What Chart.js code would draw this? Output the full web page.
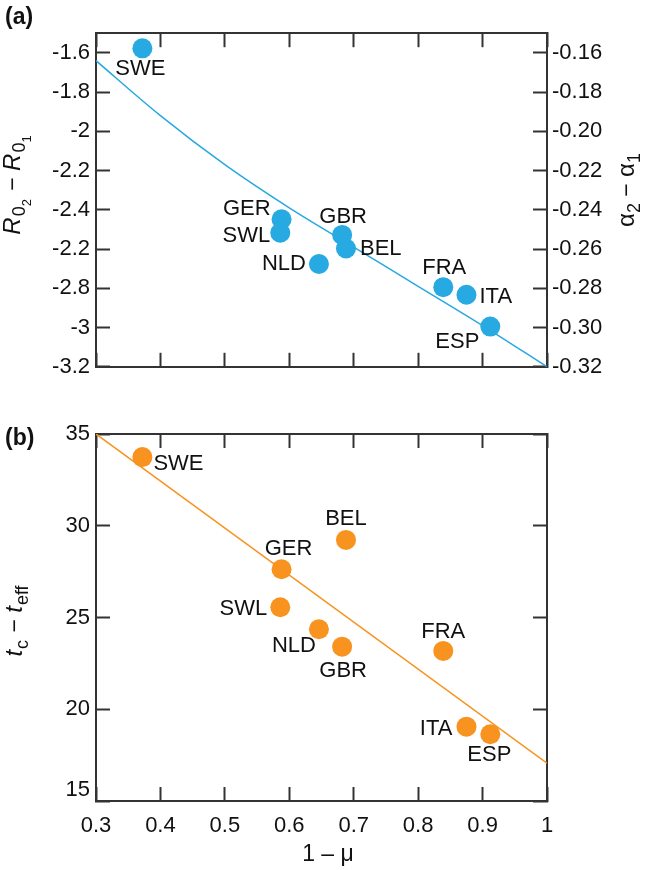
<!DOCTYPE html>
<html lang="en">
<head>
<meta charset="UTF-8">
<title>R0 and tc vs 1 - mu</title>
<script src="https://cdn.jsdelivr.net/npm/chart.js"></script>
<style>
  html, body { margin: 0; padding: 0; background: #fff; }
  #wrap { position: relative; width: 645px; height: 870px; }
  canvas { position: absolute; left: 0; }
  #chartA { top: 0; }
  #chartB { top: 400px; }
</style>
</head>
<body>
<div id="wrap">
  <canvas id="chartA" width="645" height="400"></canvas>
  <canvas id="chartB" width="645" height="470"></canvas>
</div>
<script>
// data
const countries = ['SWE', 'GER', 'SWL', 'GBR', 'BEL', 'NLD', 'FRA', 'ITA', 'ESP'];
const oneMinusMu = [0.372, 0.588, 0.586, 0.682, 0.688, 0.646, 0.839, 0.875, 0.912];
const deltaR0 = [-1.577, -2.448, -2.517, -2.528, -2.597, -2.676, -2.794, -2.833, -2.995];
const deltaT = [33.74, 27.63, 25.56, 23.41, 29.23, 24.36, 23.18, 19.05, 18.64];

const fitAx = [0.3, 0.4, 0.5, 0.6, 0.7, 0.8, 0.9, 1.0];
const fitAy = [-1.64, -1.92, -2.17, -2.39, -2.59, -2.79, -2.99, -3.2];
const fitBx = [0.3, 1.0];
const fitBy = [35, 17.06];

const xTicks = [0.3, 0.4, 0.5, 0.6, 0.7, 0.8, 0.9, 1.0];
const xTickLabels = ['0.3', '0.4', '0.5', '0.6', '0.7', '0.8', '0.9', '1'];
const yTicksA = [-3.2, -3.0, -2.8, -2.6, -2.4, -2.2, -2.0, -1.8, -1.6];
const yTickLabelsA = ['-3.2', '-3', '-2.8', '-2.2', '-2.4', '-2.2', '-2', '-1.8', '-1.6'];
const y2TicksA = [-0.32, -0.30, -0.28, -0.26, -0.24, -0.22, -0.20, -0.18, -0.16];
const y2TickLabelsA = ['-0.32', '-0.30', '-0.28', '-0.26', '-0.24', '-0.22', '-0.20', '-0.18', '-0.16'];
const yTicksB = [15, 20, 25, 30, 35];
const yTickLabelsB = ['15', '20', '25', '30', '35'];

const BLUE = '#27a9e1';
const ORANGE = '#f7931e';
const AXIS = '#333333';
const TEXT = '#111111';
const FONT = '"Liberation Sans", Arial, sans-serif';

// label placement next to each point: [dx, dy, align]
const placeA = [[-2, 21, 'center'], [-11, -10, 'right'], [-10, 3, 'right'], [1, -18, 'center'],
  [14, 0, 'left'], [-13, 0, 'right'], [1, -19, 'center'], [13, 2, 'left'], [-33, 15, 'center']];
const placeB = [[11, 7, 'left'], [7, -20, 'center'], [-13, 2, 'right'], [1, 24, 'center'],
  [0, -21, 'center'], [-3, 17, 'right'], [0, -19, 'center'], [-14, 2, 'right'], [-1, 21, 'center']];

function pts(xs, ys) {
  return xs.map((x, i) => ({ x: x, y: ys[i] }));
}

function fixedTicks(values) {
  return scale => { scale.ticks = values.map(v => ({ value: v })); };
}

function axisCommon(extra) {
  return Object.assign({
    type: 'linear',
    grid: { drawOnChartArea: false, drawTicks: true, tickLength: -14, tickWidth: 2, tickColor: AXIS },
    border: { display: true, color: AXIS, width: 2 },
  }, extra);
}

// draws text made of pieces with different fonts / baseline shifts
function drawRich(ctx, parts, x, y, rotate) {
  ctx.save();
  ctx.translate(x, y);
  if (rotate) ctx.rotate(-Math.PI / 2);
  ctx.textBaseline = 'alphabetic';
  ctx.textAlign = 'left';
  ctx.fillStyle = TEXT;
  let total = 0;
  parts.forEach(p => { ctx.font = p.font; total += ctx.measureText(p.t).width + (p.gap || 0); });
  let cx = -total / 2;
  parts.forEach(p => {
    ctx.font = p.font;
    ctx.fillText(p.t, cx, p.dy || 0);
    cx += ctx.measureText(p.t).width + (p.gap || 0);
  });
  ctx.restore();
}

const pointLabels = {
  id: 'pointLabels',
  afterDatasetsDraw(chart, args, opts) {
    const ctx = chart.ctx;
    const meta = chart.getDatasetMeta(0);
    ctx.save();
    ctx.font = '22px ' + FONT;
    ctx.fillStyle = TEXT;
    ctx.textBaseline = 'middle';
    meta.data.forEach((el, i) => {
      const p = opts.place[i];
      ctx.textAlign = p[2];
      ctx.fillText(countries[i], el.x + p[0], el.y + p[1]);
    });
    ctx.restore();
  }
};

const extras = {
  id: 'extras',
  afterDraw(chart, args, opts) {
    const ctx = chart.ctx;
    ctx.save();
    ctx.font = 'bold 23px ' + FONT;
    ctx.fillStyle = TEXT;
    ctx.textAlign = 'left';
    ctx.textBaseline = 'alphabetic';
    ctx.fillText(opts.panel, 5, opts.panelY);
    ctx.restore();
    opts.titles.forEach(t => drawRich(ctx, t.parts, t.x, t.y, t.rotate));
  }
};

const main = '23px ' + FONT;
const ital = 'italic 24px ' + FONT;
const sub = '18px ' + FONT;
const sub2 = '13px ' + FONT;
const TICKFONT = { family: FONT, size: 22 };

new Chart(document.getElementById('chartA'), {
  type: 'scatter',
  data: {
    datasets: [
      { data: pts(oneMinusMu, deltaR0), backgroundColor: BLUE, borderWidth: 0, pointRadius: 10, pointHoverRadius: 10 },
      { type: 'line', data: pts(fitAx, fitAy), borderColor: BLUE, borderWidth: 1.5, pointRadius: 0,
        fill: false, cubicInterpolationMode: 'monotone' }
    ]
  },
  options: {
    responsive: false,
    animation: false,
    devicePixelRatio: 1,
    layout: { padding: 0 },
    plugins: {
      legend: { display: false },
      tooltip: { enabled: false },
      pointLabels: { place: placeA },
      extras: {
        panel: '(a)', panelY: 24,
        titles: [
          { rotate: true, x: 20, y: 185, parts: [
            { t: 'R', font: ital, gap: 1 }, { t: '0', font: sub, dy: 5 }, { t: '2', font: sub2, dy: 11, gap: 2 },
            { t: ' \u2212 ', font: main }, { t: 'R', font: ital, gap: 1 }, { t: '0', font: sub, dy: 5 }, { t: '1', font: sub2, dy: 11 }] },
          { rotate: true, x: 634, y: 190, parts: [
            { t: '\u03b1', font: '24px ' + FONT }, { t: '2', font: sub, dy: 6 }, { t: ' \u2212 ', font: main },
            { t: '\u03b1', font: '24px ' + FONT }, { t: '1', font: sub, dy: 6 }] }
        ]
      }
    },
    scales: {
      x: axisCommon({ position: 'bottom', min: 0.3, max: 1, afterBuildTicks: fixedTicks(xTicks),
        ticks: { display: false }, afterFit: s => { s.height = 24; } }),
      x2: axisCommon({ position: 'top', min: 0.3, max: 1, afterBuildTicks: fixedTicks(xTicks),
        ticks: { display: false }, afterFit: s => { s.height = 8; } }),
      y: axisCommon({ position: 'left', min: -3.2, max: -1.5, afterBuildTicks: fixedTicks(yTicksA),
        ticks: { padding: 20, color: TEXT, font: TICKFONT, callback: (v, i) => yTickLabelsA[i] },
        afterFit: s => { s.width = 96; } }),
      y2: axisCommon({ position: 'right', min: -0.32, max: -0.15, afterBuildTicks: fixedTicks(y2TicksA),
        ticks: { padding: 19, color: TEXT, font: TICKFONT, callback: (v, i) => y2TickLabelsA[i] },
        afterFit: s => { s.width = 98; } })
    }
  },
  plugins: [pointLabels, extras]
});

new Chart(document.getElementById('chartB'), {
  type: 'scatter',
  data: {
    datasets: [
      { data: pts(oneMinusMu, deltaT), backgroundColor: ORANGE, borderWidth: 0, pointRadius: 10, pointHoverRadius: 10 },
      { type: 'line', data: pts(fitBx, fitBy), borderColor: ORANGE, borderWidth: 1.5, pointRadius: 0, fill: false }
    ]
  },
  options: {
    responsive: false,
    animation: false,
    devicePixelRatio: 1,
    layout: { padding: 0 },
    plugins: {
      legend: { display: false },
      tooltip: { enabled: false },
      pointLabels: { place: placeB },
      extras: {
        panel: '(b)', panelY: 45,
        titles: [
          { rotate: true, x: 22, y: 221, parts: [
            { t: 't', font: ital, gap: 1 }, { t: 'c', font: sub, dy: 6, gap: 1 }, { t: ' \u2212 ', font: main },
            { t: 't', font: ital, gap: 1 }, { t: 'eff', font: sub, dy: 6 }] },
          { rotate: false, x: 328, y: 461, parts: [{ t: '1 \u2013 \u03bc', font: main }] }
        ]
      }
    },
    scales: {
      x: axisCommon({ position: 'bottom', min: 0.3, max: 1, afterBuildTicks: fixedTicks(xTicks),
        ticks: { padding: 26, color: TEXT, font: TICKFONT, callback: (v, i) => xTickLabels[i] },
        afterFit: s => { s.height = 69; } }),
      x2: axisCommon({ position: 'top', min: 0.3, max: 1, afterBuildTicks: fixedTicks(xTicks),
        ticks: { display: false }, afterFit: s => { s.height = 34; } }),
      y: axisCommon({ position: 'left', min: 15, max: 35, afterBuildTicks: fixedTicks(yTicksB),
        ticks: { padding: 20, color: TEXT, font: Object.assign({ lineHeight: 1 }, TICKFONT),
          callback: (v, i) => (yTicksB[i] === 15 ? [yTickLabelsB[i], ''] : yTickLabelsB[i]) },
        afterFit: s => { s.width = 96; } }),
      y2: axisCommon({ position: 'right', min: 15, max: 35, afterBuildTicks: fixedTicks(yTicksB),
        ticks: { display: false }, afterFit: s => { s.width = 98; } })
    }
  },
  plugins: [pointLabels, extras]
});
</script>
</body>
</html>
